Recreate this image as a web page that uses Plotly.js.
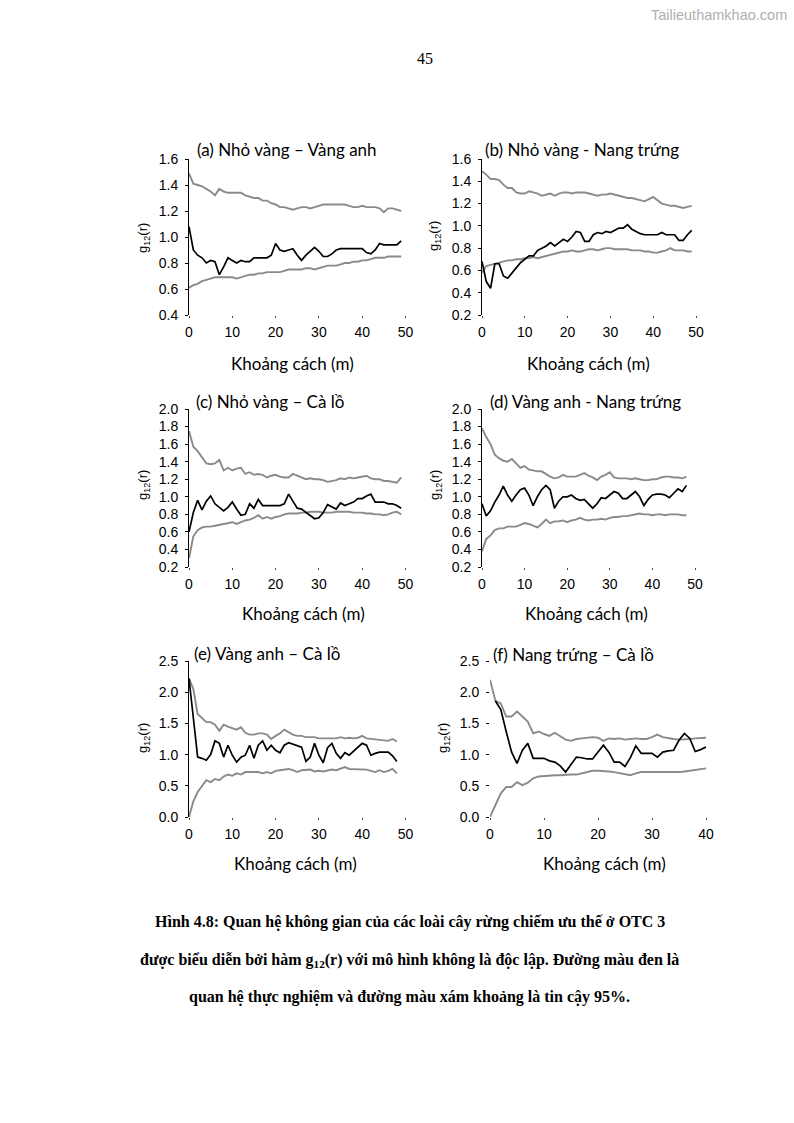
<!DOCTYPE html>
<html><head><meta charset="utf-8">
<script src="https://cdn.plot.ly/plotly-3.0.1.min.js"></script>
<style>html,body{margin:0;padding:0;background:#fff}#chart{width:794px;height:1123px}</style>
</head><body><div id="chart"></div>
<script>
// ---------- data ----------
const dist50 = [0,1,2,3,4,5,6,7,8,9,10,11,12,13,14,15,16,17,18,19,20,21,22,23,24,25,26,27,28,29,30,31,32,33,34,35,36,37,38,39,40,41,42,43,44,45,46,47,48,49];
const dist49 = [0,1,2,3,4,5,6,7,8,9,10,11,12,13,14,15,16,17,18,19,20,21,22,23,24,25,26,27,28,29,30,31,32,33,34,35,36,37,38,39,40,41,42,43,44,45,46,47,48];
const dist41 = [0,1,2,3,4,5,6,7,8,9,10,11,12,13,14,15,16,17,18,19,20,21,22,23,24,25,26,27,28,29,30,31,32,33,34,35,36,37,38,39,40];
const dist40 = [1,2,3,4,5,6,7,8,9,10,11,12,13,14,15,16,17,18,19,20,21,22,23,24,25,26,27,28,29,30,31,32,33,34,35,36,37,38,39,40];

const panelTitles = ["(a) Nhỏ vàng – Vàng anh","(b) Nhỏ vàng - Nang trứng","(c) Nhỏ vàng – Cà lồ","(d) Vàng anh - Nang trứng","(e) Vàng anh – Cà lồ","(f) Nang trứng – Cà lồ"];
const xLabel = "Khoảng cách (m)";
const yLabel = "g<sub>12</sub>(r)";

const aObs = [1.08,0.90,0.86,0.84,0.80,0.82,0.81,0.71,0.77,0.84, 0.82,0.80,0.82,0.81,0.81,0.84,0.84,0.84,0.84,0.86, 0.95,0.90,0.89,0.90,0.91,0.86,0.82,0.86,0.89,0.92, 0.89,0.85,0.85,0.87,0.90,0.91,0.91,0.91,0.91,0.91, 0.91,0.88,0.87,0.90,0.95,0.94,0.94,0.94,0.94,0.97];
const aUp  = [1.49,1.41,1.40,1.39,1.37,1.35,1.32,1.37,1.35,1.34, 1.34,1.34,1.34,1.32,1.31,1.30,1.30,1.28,1.28,1.26, 1.25,1.23,1.23,1.22,1.21,1.22,1.23,1.23,1.22,1.23, 1.24,1.25,1.25,1.25,1.25,1.25,1.25,1.24,1.23,1.23, 1.24,1.23,1.23,1.23,1.22,1.19,1.22,1.22,1.21,1.20];
const aLo  = [0.61,0.63,0.64,0.66,0.67,0.68,0.69,0.69,0.69,0.69, 0.69,0.68,0.69,0.70,0.71,0.71,0.72,0.72,0.73,0.73, 0.73,0.73,0.74,0.75,0.75,0.75,0.75,0.76,0.76,0.75, 0.76,0.77,0.78,0.78,0.78,0.79,0.80,0.80,0.81,0.81, 0.82,0.82,0.83,0.84,0.84,0.84,0.85,0.85,0.85,0.85];

const bObs = [0.68,0.50,0.44,0.66,0.66,0.55,0.53,0.58,0.63,0.67, 0.70,0.73,0.73,0.78,0.80,0.82,0.85,0.82,0.85,0.88, 0.86,0.90,0.95,0.94,0.86,0.86,0.92,0.94,0.93,0.95, 0.94,0.96,0.98,0.98,1.01,0.97,0.95,0.93,0.92,0.92, 0.92,0.92,0.94,0.92,0.92,0.92,0.87,0.87,0.92,0.96];
const bUp  = [1.49,1.46,1.42,1.42,1.41,1.37,1.34,1.34,1.30,1.29, 1.29,1.31,1.30,1.29,1.27,1.28,1.29,1.27,1.29,1.30, 1.30,1.29,1.30,1.30,1.30,1.29,1.28,1.27,1.28,1.28, 1.29,1.28,1.27,1.26,1.25,1.25,1.24,1.23,1.22,1.24, 1.26,1.23,1.20,1.19,1.18,1.18,1.17,1.16,1.17,1.18];
const bLo  = [0.58,0.64,0.65,0.66,0.67,0.68,0.69,0.69,0.70,0.70, 0.71,0.71,0.72,0.71,0.72,0.73,0.74,0.75,0.76,0.77, 0.77,0.78,0.77,0.77,0.78,0.79,0.79,0.78,0.79,0.80, 0.80,0.79,0.79,0.79,0.79,0.78,0.78,0.78,0.77,0.77, 0.76,0.76,0.77,0.78,0.80,0.78,0.78,0.78,0.77,0.77];

const cObs = [0.60,0.82,0.96,0.85,0.95,1.01,0.92,0.88,0.84,0.88, 0.94,0.86,0.79,0.80,0.92,0.87,0.97,0.90,0.90,0.90, 0.90,0.90,0.92,1.03,0.95,0.87,0.86,0.82,0.78,0.75, 0.76,0.82,0.91,0.88,0.86,0.93,0.90,0.92,0.94,0.98, 0.98,1.01,1.03,0.94,0.94,0.94,0.92,0.92,0.90,0.87];
const cUp  = [1.75,1.57,1.52,1.45,1.38,1.37,1.38,1.42,1.30,1.33, 1.30,1.32,1.33,1.26,1.28,1.25,1.26,1.25,1.22,1.24, 1.25,1.23,1.22,1.22,1.26,1.24,1.22,1.20,1.21,1.20, 1.20,1.19,1.17,1.18,1.19,1.21,1.20,1.22,1.21,1.22, 1.23,1.24,1.21,1.20,1.20,1.18,1.18,1.17,1.16,1.22];
const cLo  = [0.30,0.55,0.62,0.65,0.66,0.66,0.67,0.68,0.69,0.70, 0.71,0.69,0.71,0.73,0.74,0.76,0.79,0.75,0.77,0.75, 0.77,0.78,0.80,0.81,0.81,0.81,0.82,0.82,0.83,0.83, 0.83,0.82,0.82,0.82,0.83,0.83,0.83,0.83,0.82,0.82, 0.82,0.81,0.81,0.80,0.80,0.79,0.80,0.82,0.83,0.80];

const dObs = [0.92,0.78,0.84,0.94,1.02,1.12,1.02,0.95,1.02,1.08, 1.10,1.02,0.90,1.00,1.08,1.13,1.08,0.87,0.95,1.00, 1.00,1.02,0.98,0.96,0.97,0.92,0.87,0.92,0.99,0.98, 1.02,1.06,1.04,0.98,0.98,1.02,1.06,1.00,0.90,0.97, 1.02,1.03,1.03,1.02,0.99,1.04,1.09,1.06,1.13];
const dUp  = [1.78,1.68,1.60,1.48,1.44,1.41,1.40,1.43,1.38,1.33, 1.35,1.31,1.30,1.29,1.29,1.26,1.23,1.21,1.22,1.25, 1.23,1.23,1.23,1.25,1.27,1.24,1.22,1.19,1.23,1.25, 1.28,1.22,1.21,1.21,1.21,1.20,1.21,1.20,1.19,1.19, 1.20,1.20,1.22,1.23,1.23,1.22,1.22,1.21,1.23];
const dLo  = [0.38,0.52,0.56,0.62,0.64,0.64,0.66,0.66,0.66,0.68, 0.70,0.69,0.67,0.65,0.69,0.74,0.70,0.72,0.72,0.73, 0.71,0.73,0.74,0.76,0.74,0.73,0.74,0.74,0.75,0.74, 0.76,0.77,0.77,0.78,0.78,0.79,0.80,0.81,0.80,0.80, 0.79,0.80,0.80,0.79,0.80,0.80,0.80,0.79,0.79];

const eObs = [2.22,1.58,0.96,0.94,0.91,1.00,1.22,1.18,0.96,1.15, 0.99,0.88,0.96,0.99,1.15,0.94,1.15,1.22,1.07,1.15, 1.07,1.03,1.15,1.19,1.17,1.15,1.12,0.89,0.96,1.18, 0.99,0.87,1.11,1.18,1.02,0.94,1.03,0.99,1.05,1.12, 1.18,1.15,0.99,1.02,1.04,1.04,1.04,0.98,0.89];
const eUp  = [2.22,2.05,1.65,1.58,1.52,1.52,1.48,1.38,1.48,1.45, 1.42,1.40,1.44,1.35,1.32,1.32,1.34,1.34,1.32,1.25, 1.30,1.34,1.40,1.36,1.32,1.30,1.30,1.28,1.28,1.28, 1.26,1.26,1.25,1.25,1.26,1.28,1.26,1.27,1.26,1.27, 1.30,1.26,1.25,1.24,1.23,1.22,1.22,1.25,1.21];
const eLo  = [0.00,0.25,0.40,0.50,0.59,0.56,0.61,0.59,0.65,0.68, 0.66,0.70,0.68,0.72,0.72,0.72,0.72,0.70,0.72,0.70, 0.74,0.75,0.76,0.77,0.75,0.72,0.75,0.76,0.76,0.73, 0.74,0.73,0.75,0.76,0.75,0.78,0.80,0.77,0.77,0.76, 0.76,0.76,0.74,0.72,0.75,0.72,0.74,0.77,0.70];

const fObs = [1.86,1.72,1.37,1.04,0.86,1.07,1.18,0.94,0.94,0.94, 0.90,0.88,0.82,0.72,0.84,0.96,0.95,0.93,0.93,1.05, 1.15,1.04,0.88,0.88,0.81,0.95,1.14,1.02,1.02,1.02, 0.96,1.04,1.06,1.07,1.23,1.34,1.26,1.05,1.08,1.12];
const fUp  = [2.20,1.86,1.82,1.61,1.61,1.69,1.61,1.53,1.34,1.37, 1.33,1.30,1.35,1.30,1.24,1.22,1.25,1.26,1.27,1.28, 1.27,1.22,1.26,1.25,1.26,1.24,1.25,1.26,1.25,1.25, 1.28,1.32,1.28,1.26,1.25,1.24,1.24,1.25,1.26,1.27, 1.27];
const fLo  = [0.00,0.20,0.38,0.48,0.48,0.56,0.51,0.55,0.62,0.65, 0.66,0.66,0.67,0.67,0.68,0.68,0.68,0.70,0.72,0.74, 0.74,0.74,0.73,0.72,0.70,0.69,0.67,0.70,0.72,0.72, 0.72,0.71,0.72,0.72,0.72,0.72,0.73,0.74,0.75,0.77, 0.78];

const captionLines = [
  "Hình 4.8: Quan hệ không gian của các loài cây rừng chiếm ưu thế ở OTC 3",
  "được biểu diễn bởi hàm g<sub>12</sub>(r) với mô hình không là độc lập. Đường màu đen là",
  "quan hệ thực nghiệm và đường màu xám khoảng là tin cậy 95%."
];
const pageNumber = "45";
const watermark = "Tailieuthamkhao.com";

// ---------- layout geometry (pixels) ----------
const W = 794, H = 1123;
const fx = p => p / W;
const fy = p => 1 - p / H;

const panels = [
  {obs:[dist50,aObs], up:[dist50,aUp], lo:[dist50,aLo], x0:189, x1:405.5, yt:159, yb:315, xr:[0,50], yr:[0.4,1.6], dt:0.2, line:true,
   tx:287, ty:150, lx:292, ly:363, gx:143, gy:238},
  {obs:[dist50,bObs], up:[dist50,bUp], lo:[dist50,bLo], x0:482, x1:696, yt:159, yb:315, xr:[0,50], yr:[0.2,1.6], dt:0.2, line:true,
   tx:582, ty:150, lx:588, ly:363, gx:435, gy:236},
  {obs:[dist50,cObs], up:[dist50,cUp], lo:[dist50,cLo], x0:189, x1:405.5, yt:409, yb:567, xr:[0,50], yr:[0.2,2.0], dt:0.2, line:true,
   tx:270, ty:401, lx:303, ly:613, gx:143, gy:485},
  {obs:[dist49,dObs], up:[dist49,dUp], lo:[dist49,dLo], x0:482, x1:695, yt:409, yb:567, xr:[0,50], yr:[0.2,2.0], dt:0.2, line:true,
   tx:585, ty:401, lx:586, ly:613, gx:435, gy:485},
  {obs:[dist49,eObs], up:[dist49,eUp], lo:[dist49,eLo], x0:189, x1:405.5, yt:661, yb:817, xr:[0,50], yr:[0,2.5], dt:0.5, line:true,
   tx:267, ty:653, lx:295, ly:863, gx:143, gy:738},
  {obs:[dist40,fObs], up:[dist41,fUp], lo:[dist41,fLo], x0:490, x1:706, yt:661, yb:817, xr:[0,40], yr:[0,2.5], dt:0.5, line:false,
   tx:573, ty:654, lx:604, ly:863, gx:443, gy:738}
];

const GRAY = '#8a8a8a';
const traces = [];
const layout = {
  width: W, height: H,
  margin: {l:0, r:0, t:0, b:0},
  paper_bgcolor: '#fff', plot_bgcolor: 'rgba(0,0,0,0)',
  showlegend: false,
  annotations: []
};
const tickFont = {family: 'Liberation Sans, Arial, sans-serif', size: 14, color: '#000'};
const labelFont = {family: 'Lato, sans-serif', size: 17, color: '#000'};

panels.forEach((p, i) => {
  const n = i + 1;
  const xa = 'x' + (n === 1 ? '' : n), ya = 'y' + (n === 1 ? '' : n);
  const xk = 'xaxis' + (n === 1 ? '' : n), yk = 'yaxis' + (n === 1 ? '' : n);
  traces.push({x: p.up[0], y: p.up[1], xaxis: xa, yaxis: ya, mode: 'lines', line: {color: GRAY, width: 1.9}, hoverinfo: 'skip'});
  traces.push({x: p.lo[0], y: p.lo[1], xaxis: xa, yaxis: ya, mode: 'lines', line: {color: GRAY, width: 1.9}, hoverinfo: 'skip'});
  traces.push({x: p.obs[0], y: p.obs[1], xaxis: xa, yaxis: ya, mode: 'lines', line: {color: '#000', width: 1.7}, hoverinfo: 'skip'});
  layout[xk] = {
    domain: [fx(p.x0), fx(p.x1)], anchor: ya, range: p.xr, dtick: 10, tick0: 0,
    showgrid: false, zeroline: false, showline: false,
    ticks: 'outside', ticklen: 2, tickcolor: '#444', tickwidth: 1,
    tickfont: tickFont, ticklabelstandoff: 2, fixedrange: true
  };
  layout[yk] = {
    domain: [fy(p.yb), fy(p.yt)], anchor: xa, range: p.yr, dtick: p.dt, tick0: 0,
    tickformat: '.1f', showgrid: false, zeroline: false,
    showline: p.line, linecolor: '#000', linewidth: 1,
    ticks: 'outside', ticklen: 3, tickcolor: '#000', tickwidth: 1,
    tickfont: tickFont, ticklabelstandoff: 4, fixedrange: true
  };
  layout.annotations.push({text: panelTitles[i], xref: 'paper', yref: 'paper', x: fx(p.tx), y: fy(p.ty),
    xanchor: 'center', yanchor: 'middle', showarrow: false, font: labelFont});
  layout.annotations.push({text: xLabel, xref: 'paper', yref: 'paper', x: fx(p.lx), y: fy(p.ly),
    xanchor: 'center', yanchor: 'middle', showarrow: false, font: labelFont});
  layout.annotations.push({text: yLabel, xref: 'paper', yref: 'paper', x: fx(p.gx), y: fy(p.gy), textangle: -90,
    xanchor: 'center', yanchor: 'middle', showarrow: false, font: {family: 'Liberation Sans, Arial, sans-serif', size: 13, color: '#000'}});
});

const capY = [922, 960, 997];
captionLines.forEach((t, k) => {
  layout.annotations.push({text: '<b>' + t + '</b>', xref: 'paper', yref: 'paper', x: fx(410), y: fy(capY[k]),
    xanchor: 'center', yanchor: 'middle', showarrow: false,
    font: {family: 'Liberation Serif, Times New Roman, serif', size: 16, color: '#000'}});
});
layout.annotations.push({text: pageNumber, xref: 'paper', yref: 'paper', x: fx(425), y: fy(58),
  xanchor: 'center', yanchor: 'middle', showarrow: false,
  font: {family: 'Liberation Serif, Times New Roman, serif', size: 16, color: '#000'}});
layout.annotations.push({text: watermark, xref: 'paper', yref: 'paper', x: fx(719), y: fy(15),
  xanchor: 'center', yanchor: 'middle', showarrow: false,
  font: {family: 'Liberation Sans, Arial, sans-serif', size: 14.5, color: '#b0b0b0'}});

Plotly.newPlot('chart', traces, layout, {staticPlot: true, displayModeBar: false});
</script></body></html>
